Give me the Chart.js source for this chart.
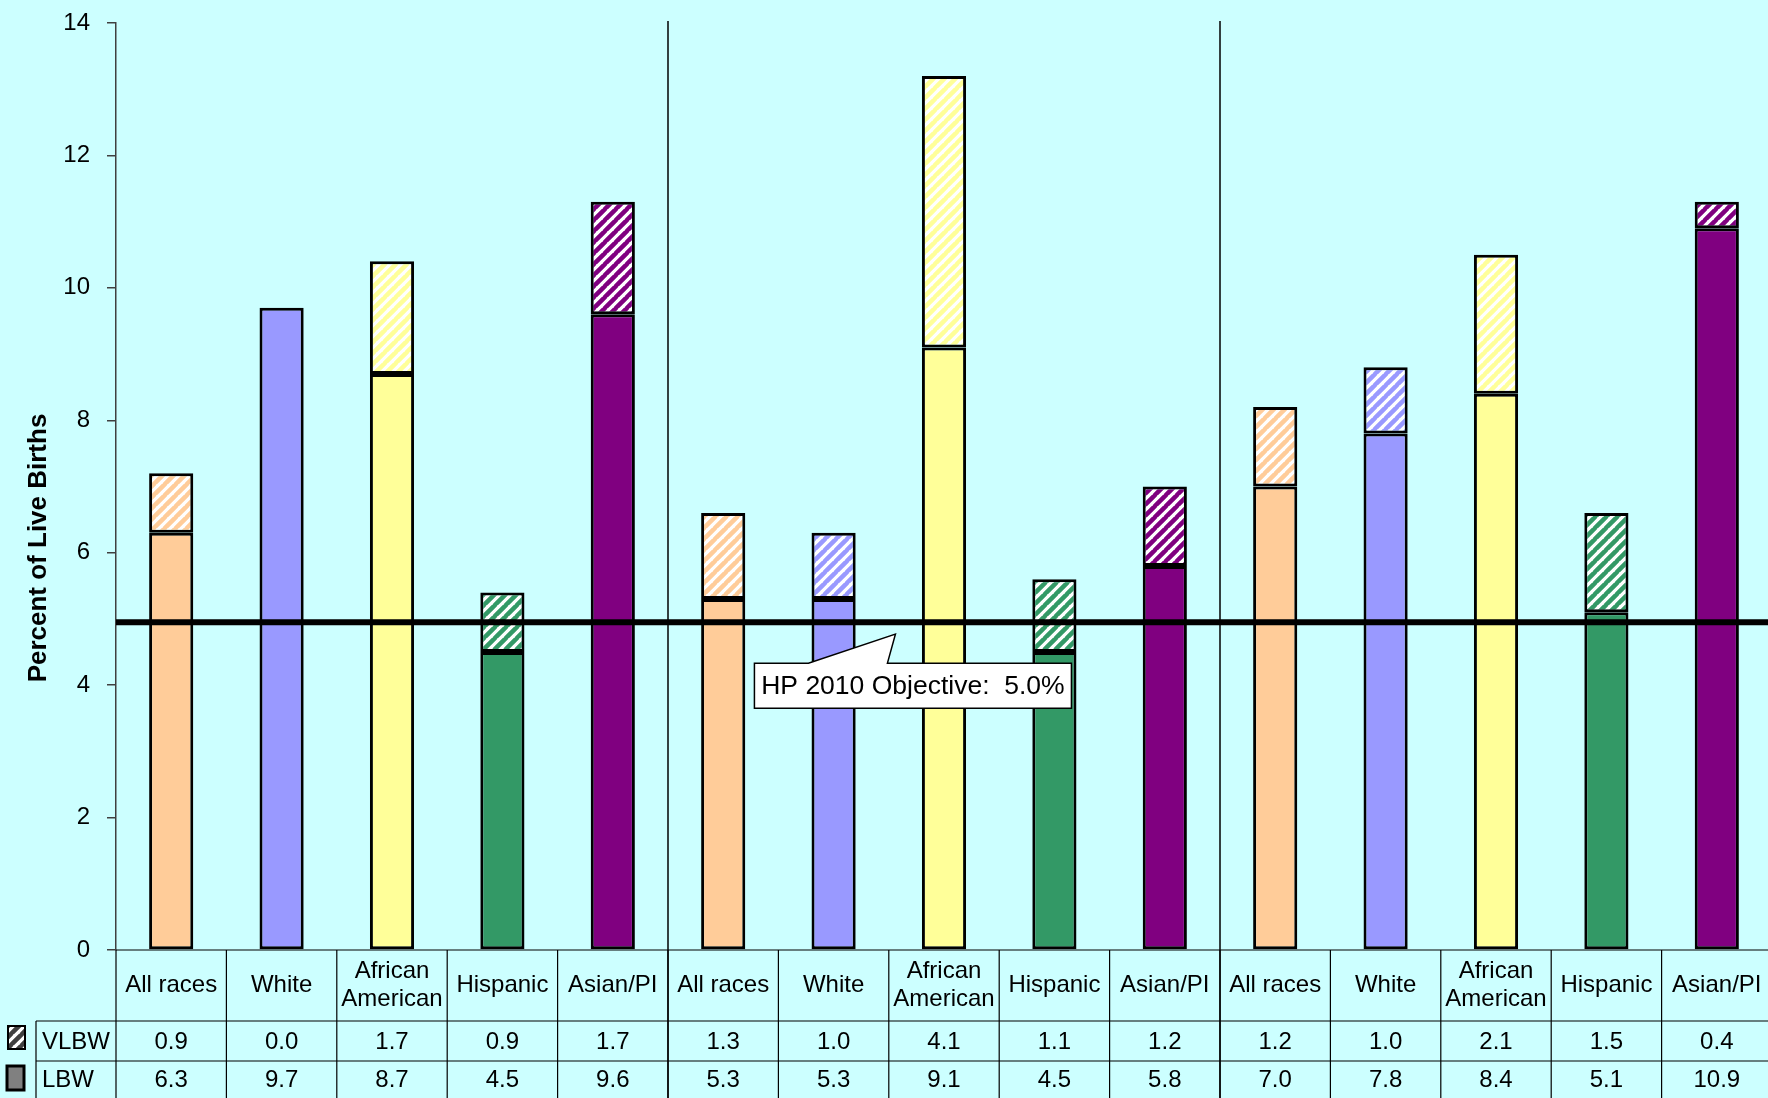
<!DOCTYPE html>
<html>
<head>
<meta charset="utf-8">
<script src="https://cdn.jsdelivr.net/npm/chart.js@4.4.1/dist/chart.umd.min.js"></script>
<style>
  html, body { margin: 0; padding: 0; background: #CCFFFF; overflow: hidden; }
  #wrap { width: 1772px; height: 1098px; position: relative; }
</style>
</head>
<body>
<div id="wrap"><canvas id="lbwChart"></canvas></div>
<script>
// chart values
const raceNames = [["All races"], ["White"], ["African", "American"], ["Hispanic"], ["Asian/PI"]];
const categories = [...raceNames, ...raceNames, ...raceNames];
const lbwValues = [6.3, 9.7, 8.7, 4.5, 9.6, 5.3, 5.3, 9.1, 4.5, 5.8, 7.0, 7.8, 8.4, 5.1, 10.9];
const vlbwValues = [0.9, 0.0, 1.7, 0.9, 1.7, 1.3, 1.0, 4.1, 1.1, 1.2, 1.2, 1.0, 2.1, 1.5, 0.4];
const seriesNames = ["VLBW", "LBW"];
const yMax = 14, yStep = 2;
const objectiveValue = 4.95;
const objectiveText = "HP 2010 Objective:  5.0%";
const yTitle = "Percent of Live Births";

const raceColors = ["#FFCC99", "#9999FF", "#FFFF99", "#339966", "#800080"];
const FONT = "Arial, 'Liberation Sans', sans-serif";

function hatch(color, bg) {
    const s = 11;
    const c = document.createElement("canvas");
    c.width = c.height = s;
    const g = c.getContext("2d");
    g.fillStyle = bg;
    g.fillRect(0, 0, s, s);
    g.strokeStyle = color;
    g.lineWidth = 4.5;
    g.beginPath();
    for (let o = -s; o <= s; o += s) {
        g.moveTo(o - 1, s + 1);
        g.lineTo(o + s + 1, -1);
    }
    g.stroke();
    return g.createPattern(c, "repeat");
}

const solidFill = categories.map((_, i) => raceColors[i % 5]);
const hatchFill = categories.map((_, i) => hatch(raceColors[i % 5], "#FFFFFF"));

const decorations = {
    id: "decorations",
    afterDatasetsDraw(chart) {
        const { ctx, chartArea: a, scales: { x, y } } = chart;
        const H = chart.height;
        const edge = k => x.getPixelForValue(k - 0.5);

        ctx.save();
        // separators between the three groups
        ctx.strokeStyle = "#000";
        ctx.lineWidth = 1.5;
        [5, 10].forEach(k => {
            ctx.beginPath();
            ctx.moveTo(edge(k), a.top - 2);
            ctx.lineTo(edge(k), H);
            ctx.stroke();
        });

        // objective line
        const yl = y.getPixelForValue(objectiveValue);
        ctx.lineWidth = 6;
        ctx.beginPath();
        ctx.moveTo(a.left, yl);
        ctx.lineTo(a.right, yl);
        ctx.stroke();

        // callout
        const tx = x.getPixelForValue(6.56), ty = y.getPixelForValue(4.77);
        const bl = tx - 141, bt = ty + 29, bw = 317, bh = 45;
        ctx.beginPath();
        ctx.moveTo(bl, bt);
        ctx.lineTo(tx - 87, bt);
        ctx.lineTo(tx, ty);
        ctx.lineTo(tx - 8, bt);
        ctx.lineTo(bl + bw, bt);
        ctx.lineTo(bl + bw, bt + bh);
        ctx.lineTo(bl, bt + bh);
        ctx.closePath();
        ctx.fillStyle = "#FFFFFF";
        ctx.fill();
        ctx.lineWidth = 1.5;
        ctx.stroke();
        ctx.fillStyle = "#000";
        ctx.font = `26.5px ${FONT}`;
        ctx.textAlign = "center";
        ctx.textBaseline = "middle";
        ctx.fillText(objectiveText, bl + bw / 2, bt + bh / 2 + 1);
        ctx.restore();
    },
    afterDraw(chart) {
        const { ctx, chartArea: a, scales: { x } } = chart;
        const H = chart.height;
        const edge = k => x.getPixelForValue(k - 0.5);
        const headTop = a.bottom, row1 = a.bottom + 71, row2 = row1 + 40;
        const tableLeft = 36;

        ctx.save();
        ctx.strokeStyle = "#000";
        ctx.lineWidth = 1.2;
        // grid of the data table
        ctx.beginPath();
        ctx.moveTo(a.left, headTop); ctx.lineTo(a.right, headTop);
        ctx.moveTo(tableLeft, row1); ctx.lineTo(a.right, row1);
        ctx.moveTo(tableLeft, row2); ctx.lineTo(a.right, row2);
        ctx.moveTo(tableLeft, row1); ctx.lineTo(tableLeft, H);
        for (let k = 0; k <= categories.length; k++) {
            ctx.moveTo(edge(k), headTop);
            ctx.lineTo(edge(k), H);
        }
        ctx.stroke();

        ctx.fillStyle = "#000";
        ctx.font = `24px ${FONT}`;
        ctx.textAlign = "center";
        ctx.textBaseline = "middle";
        categories.forEach((lines, i) => {
            const cx = x.getPixelForValue(i);
            const mid = (headTop + row1) / 2;
            lines.forEach((t, j) => {
                ctx.fillText(t, cx, mid + (j - (lines.length - 1) / 2) * 28);
            });
            ctx.fillText(vlbwValues[i].toFixed(1), cx, (row1 + row2) / 2 + 1);
            ctx.fillText(lbwValues[i].toFixed(1), cx, (row2 + H) / 2 + 1);
        });

        // row labels and legend keys
        ctx.textAlign = "left";
        ctx.fillText(seriesNames[0], 42, (row1 + row2) / 2 + 1);
        ctx.fillText(seriesNames[1], 42, (row2 + H) / 2 + 1);

        ctx.fillStyle = hatch("#404040", "#FFFFFF");
        ctx.fillRect(8, row1 + 5, 17, 23);
        ctx.lineWidth = 2;
        ctx.strokeRect(8, row1 + 5, 17, 23);
        ctx.fillStyle = "#808080";
        ctx.fillRect(7, row2 + 5, 17, 24);
        ctx.lineWidth = 3;
        ctx.strokeRect(7, row2 + 5, 17, 24);

        // y axis title
        ctx.translate(39, 548);
        ctx.rotate(-Math.PI / 2);
        ctx.textAlign = "center";
        ctx.fillStyle = "#000";
        ctx.font = `bold 26px ${FONT}`;
        ctx.fillText(yTitle, 0, 0);
        ctx.restore();
    }
};

new Chart(document.getElementById("lbwChart"), {
    type: "bar",
    data: {
        labels: categories,
        datasets: [
            {
                label: seriesNames[1],
                data: lbwValues,
                backgroundColor: solidFill,
                borderColor: "#000",
                borderWidth: 3,
                borderSkipped: false,
                barPercentage: 0.4,
                categoryPercentage: 1
            },
            {
                label: seriesNames[0],
                data: vlbwValues,
                backgroundColor: hatchFill,
                borderColor: "#000",
                borderWidth: 3,
                borderSkipped: false,
                barPercentage: 0.4,
                categoryPercentage: 1
            }
        ]
    },
    options: {
        responsive: true,
        maintainAspectRatio: false,
        animation: false,
        layout: { padding: { left: 0, top: 23, right: 0, bottom: 148 } },
        plugins: { legend: { display: false }, tooltip: { enabled: false } },
        scales: {
            x: { stacked: true, display: false },
            y: {
                stacked: true,
                min: 0,
                max: yMax,
                ticks: { stepSize: yStep, color: "#000", padding: 17, font: { size: 24, family: FONT } },
                grid: { drawOnChartArea: false, drawTicks: true, tickLength: 9, color: "#404040", lineWidth: 1.5 },
                border: { display: true, color: "#404040", width: 1.5 },
                afterFit: s => {
                    s.width = 116;
                    s.paddingTop = 0;
                    s.paddingBottom = 0;
                }
            }
        }
    },
    plugins: [decorations]
});
</script>
</body>
</html>
